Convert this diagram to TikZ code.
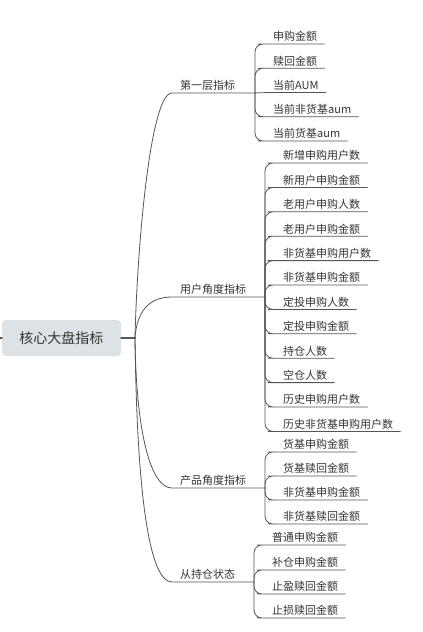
\documentclass[tikz,border=0pt]{standalone}
\usepackage{fontspec}
\setmainfont{Noto Sans CJK SC}
\usetikzlibrary{arrows.meta}
\definecolor{ink}{HTML}{333333}
\definecolor{wire}{HTML}{555555}
\definecolor{rootfill}{HTML}{DCE2E5}
\tikzset{
  every picture/.style={line join=round, line cap=round},
  root/.style={fill=rootfill, rounded corners=4pt, minimum width=119pt, minimum height=36pt, text=ink, font=\fontsize{14pt}{16pt}\selectfont},
  topic/.style={anchor=south west, inner xsep=8pt, inner ysep=1pt, text height=9pt, text depth=2pt, text=ink, font=\fontsize{11pt}{13pt}\selectfont},
  leaf/.style={topic, inner xsep=7pt},
  branch/.style={draw=wire, line width=0.8pt},
  link/.style={draw=wire, line width=0.8pt, rounded corners=8pt},
  trunk/.style={draw=wire, line width=2pt},
}

\begin{document}
\begin{tikzpicture}[x=1pt,y=-1pt]
\useasboundingbox (0,0) rectangle (423,632);
% root
\node[root] (root) at (61.5,338) {核心大盘指标};
\coordinate (src) at (0,338);
\coordinate (h0) at (135,338);
\draw[trunk] (src) -- (root.west);
\draw[trunk] (root.east) -- (h0);
% main topics
\node[topic] (b1) at (172,93) {第一层指标};
\node[topic] (b2) at (172,297) {用户角度指标};
\node[topic] (b3) at (172,488) {产品角度指标};
\node[topic] (b4) at (172,582) {从持仓状态};
\coordinate (h1) at (255,93);
\coordinate (h2) at (265,297);
\coordinate (h3) at (265,488);
\coordinate (h4) at (254,582);
\draw[branch] (h0) .. controls (137,250) and (150,93) .. (b1.south west) -- (h1);
\draw[branch] (h0) .. controls (137,310) and (150,297) .. (b2.south west) -- (h2);
\draw[branch] (h0) .. controls (136,430) and (150,488) .. (b3.south west) -- (h3);
\draw[branch] (h0) .. controls (137,500) and (150,582) .. (b4.south west) -- (h4);
% 第一层指标
\node[leaf] (a1) at (266,44) {申购金额};
\node[leaf] (a2) at (266,68.25) {赎回金额};
\node[leaf] (a3) at (266,92.5) {当前AUM};
\node[leaf] (a4) at (266,116.75) {当前非货基aum};
\node[leaf] (a5) at (266,141) {当前货基aum};
\draw[link] (h1) |- (a1.south west) -- (a1.south east);
\draw[link] (h1) |- (a2.south west) -- (a2.south east);
\draw[link] (h1) -- (a3.south west) -- (a3.south east);
\draw[link] (h1) |- (a4.south west) -- (a4.south east);
\draw[link] (h1) |- (a5.south west) -- (a5.south east);
% 用户角度指标
\node[leaf] (u1) at (276,163) {新增申购用户数};
\node[leaf] (u2) at (276,187.4) {新用户申购金额};
\node[leaf] (u3) at (276,211.8) {老用户申购人数};
\node[leaf] (u4) at (276,236.2) {老用户申购金额};
\node[leaf] (u5) at (276,260.6) {非货基申购用户数};
\node[leaf] (u6) at (276,285) {非货基申购金额};
\node[leaf] (u7) at (276,309.4) {定投申购人数};
\node[leaf] (u8) at (276,333.8) {定投申购金额};
\node[leaf] (u9) at (276,358.2) {持仓人数};
\node[leaf] (u10) at (276,382.6) {空仓人数};
\node[leaf] (u11) at (276,407) {历史申购用户数};
\node[leaf] (u12) at (276,431.4) {历史非货基申购用户数};
\draw[link] (h2) |- (u1.south west) -- (u1.south east);
\draw[link] (h2) |- (u2.south west) -- (u2.south east);
\draw[link] (h2) |- (u3.south west) -- (u3.south east);
\draw[link] (h2) |- (u4.south west) -- (u4.south east);
\draw[link] (h2) |- (u5.south west) -- (u5.south east);
\draw[link] (h2) |- (u6.south west) -- (u6.south east);
\draw[link] (h2) |- (u7.south west) -- (u7.south east);
\draw[link] (h2) |- (u8.south west) -- (u8.south east);
\draw[link] (h2) |- (u9.south west) -- (u9.south east);
\draw[link] (h2) |- (u10.south west) -- (u10.south east);
\draw[link] (h2) |- (u11.south west) -- (u11.south east);
\draw[link] (h2) |- (u12.south west) -- (u12.south east);
% 产品角度指标
\node[leaf] (p1) at (276,452) {货基申购金额};
\node[leaf] (p2) at (276,476) {货基赎回金额};
\node[leaf] (p3) at (276,500) {非货基申购金额};
\node[leaf] (p4) at (276,524) {非货基赎回金额};
\draw[link] (h3) |- (p1.south west) -- (p1.south east);
\draw[link] (h3) |- (p2.south west) -- (p2.south east);
\draw[link] (h3) |- (p3.south west) -- (p3.south east);
\draw[link] (h3) |- (p4.south west) -- (p4.south east);
% 从持仓状态
\node[leaf] (s1) at (265,545) {普通申购金额};
\node[leaf] (s2) at (265,570) {补仓申购金额};
\node[leaf] (s3) at (265,594) {止盈赎回金额};
\node[leaf] (s4) at (265,618) {止损赎回金额};
\draw[link] (h4) |- (s1.south west) -- (s1.south east);
\draw[link] (h4) |- (s2.south west) -- (s2.south east);
\draw[link] (h4) |- (s3.south west) -- (s3.south east);
\draw[link] (h4) |- (s4.south west) -- (s4.south east);
\end{tikzpicture}
\end{document}
